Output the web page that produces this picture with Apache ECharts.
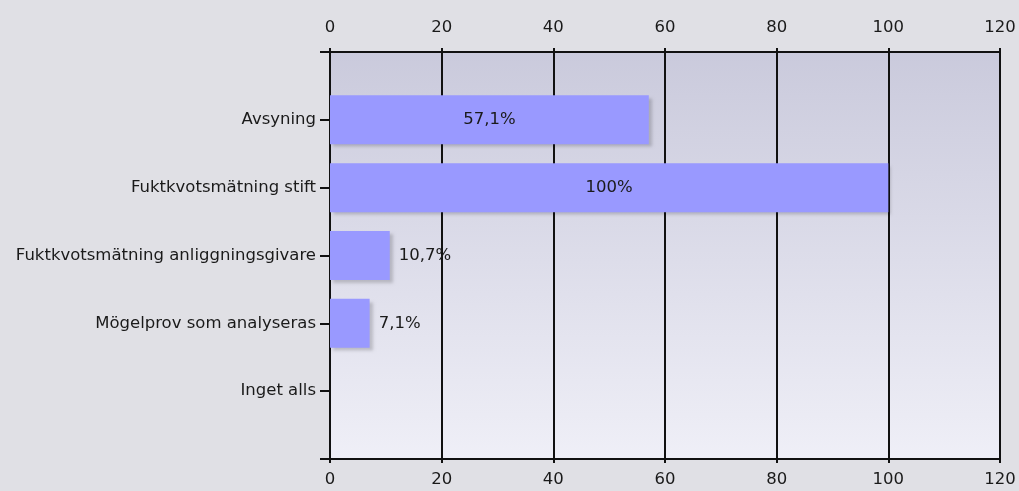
<!DOCTYPE html>
<html>
<head>
<meta charset="utf-8">
<style>
  html, body { margin: 0; padding: 0; background: #e0e0e5; }
  #chart { width: 1019px; height: 491px; }
</style>
<script src="https://cdn.jsdelivr.net/npm/echarts@6/dist/echarts.min.js"></script>
</head>
<body>
<div id="chart"></div>
<script>
// Answer options, top to bottom
const categories = [
  'Avsyning',
  'Fuktkvotsmätning stift',
  'Fuktkvotsmätning anliggningsgivare',
  'Mögelprov som analyseras',
  'Inget alls'
];
// Share of respondents (%)
const values = [57.1, 100, 10.7, 7.1, 0];
const labelTexts = ['57,1%', '100%', '10,7%', '7,1%', ''];
const xTicks = { min: 0, max: 120, interval: 20 };

// Empty slots at both ends keep the bars inset from the frame
const axisCats = [''].concat(categories, ['']);
const seriesData = [null].concat(values.map((v, i) => ({
  value: v,
  label: {
    show: labelTexts[i] !== '',
    formatter: labelTexts[i],
    position: v > 30 ? 'inside' : 'right',
    distance: 9
  }
})), [null]);

const font = 'DejaVu Sans';
const fs = 16.5;
const chart = echarts.init(document.getElementById('chart'));

const xAxisBase = {
  type: 'value',
  min: xTicks.min,
  max: xTicks.max,
  interval: xTicks.interval,
  axisLine: { show: true, onZero: false, lineStyle: { color: '#111', width: 2 } },
  axisTick: { show: true, length: 4, lineStyle: { color: '#111', width: 2 } },
  axisLabel: { color: '#1a1a1a', fontFamily: font, fontSize: fs },
  splitLine: { show: true, lineStyle: { color: '#111', width: 2 } }
};

chart.setOption({
  backgroundColor: '#e0e0e5',
  animation: false,
  grid: {
    left: 330, right: 19, top: 52, bottom: 32,
    show: true,
    borderWidth: 0,
    backgroundColor: {
      type: 'linear', x: 0, y: 0, x2: 0, y2: 1,
      colorStops: [
        { offset: 0, color: '#cacadc' },
        { offset: 1, color: '#efeff7' }
      ]
    }
  },
  xAxis: [
    Object.assign({}, xAxisBase, {
      position: 'top',
      axisLabel: Object.assign({}, xAxisBase.axisLabel, { margin: 16 })
    }),
    Object.assign({}, xAxisBase, {
      position: 'bottom',
      splitLine: { show: false },
      axisLabel: Object.assign({}, xAxisBase.axisLabel, { margin: 12 })
    })
  ],
  yAxis: {
    type: 'category',
    data: axisCats,
    inverse: true,
    boundaryGap: false,
    axisLine: { show: true, lineStyle: { color: '#111', width: 2 } },
    axisTick: { show: true, length: 10, lineStyle: { color: '#111', width: 2 } },
    axisLabel: { color: '#1a1a1a', fontFamily: font, fontSize: fs, margin: 14 },
    splitLine: { show: false }
  },
  series: [{
    type: 'bar',
    xAxisIndex: 0,
    data: seriesData,
    barWidth: 49,
    itemStyle: {
      color: '#9999ff',
      shadowColor: 'rgba(0,0,0,0.18)',
      shadowBlur: 3,
      shadowOffsetX: 3,
      shadowOffsetY: 3
    },
    label: {
      color: '#1a1a1a',
      fontFamily: font,
      fontSize: fs
    }
  }]
});
</script>
</body>
</html>
